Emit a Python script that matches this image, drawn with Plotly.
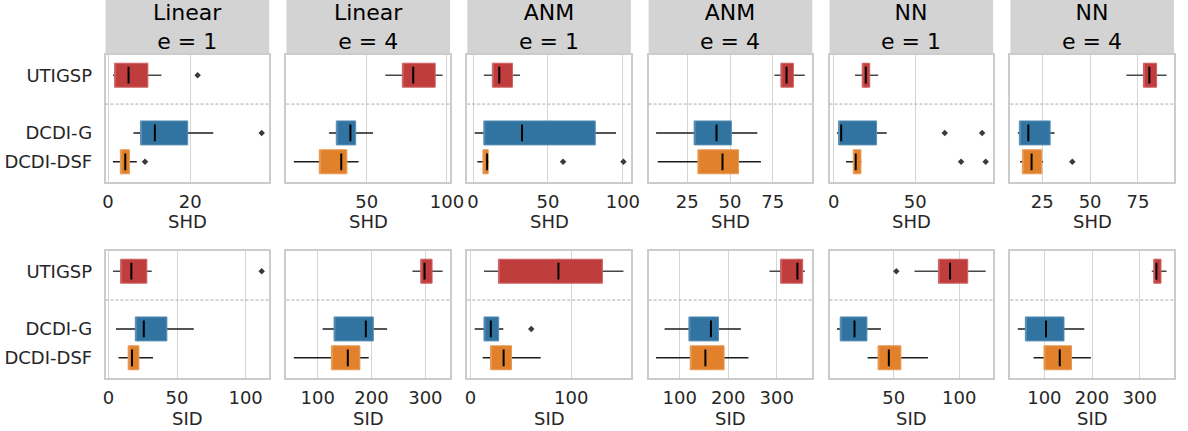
import plotly.graph_objects as go

# ---------------- data ----------------
methods = ["UTIGSP", "DCDI-G", "DCDI-DSF"]
method_pos = [0, 2, 3]
fill_colors = ["#c03d3e", "#3274a1", "#e1812c"]
edge_colors = ["#cd6263", "#5a8fb4", "#e79a57"]
whisker_colors = ["#474747", "#1c1c1c", "#1c1c1c"]
panel_titles = ["Linear<br>e = 1", "Linear<br>e = 4", "ANM<br>e = 1",
                "ANM<br>e = 4", "NN<br>e = 1", "NN<br>e = 4"]
metric_names = ["SHD", "SID"]

# SHD statistics: rows = panels, columns = [UTIGSP, DCDI-G, DCDI-DSF]
shd_lo = [[1.2, 6.2, 1.2], [61.6, 26.5, 4.5], [7.2, 1.1, 2.9],
          [76.0, 6.7, 7.7], [13.1, 2.0, 7.6], [69.0, 12.2, 13.4]]
shd_q1 = [[1.6, 7.9, 3.0], [72.2, 31.0, 20.4], [12.9, 7.2, 6.6],
          [79.8, 29.0, 31.2], [17.5, 3.0, 12.0], [77.9, 13.0, 14.6]]
shd_med = [[5.0, 11.4, 4.2], [79.0, 39.8, 34.1], [17.5, 32.7, 9.4],
           [83.1, 42.1, 45.6], [19.7, 4.6, 13.5], [81.0, 17.7, 19.4]]
shd_q3 = [[9.7, 19.4, 5.2], [92.7, 43.1, 37.6], [26.3, 81.6, 10.1],
          [87.1, 50.8, 55.0], [22.1, 26.3, 16.7], [84.8, 29.1, 24.7]]
shd_hi = [[13.0, 25.6, 7.0], [97.3, 53.9, 44.9], [31.4, 95.4, 10.5],
          [93.8, 66.0, 68.1], [27.3, 32.5, 17.0], [90.0, 31.4, 25.4]]
shd_out = [[[21.8], [37.4], [9.0]], [[], [], []], [[], [], [60.1, 100.4]],
           [[], [], []], [[], [68.1, 91.0], [78.1, 93.2]], [[], [], [40.7]]]
shd_ticks = [[0, 20], [50, 100], [0, 50, 100], [25, 50, 75], [0, 50], [25, 50, 75]]

# SID statistics
sid_lo = [[3.3, 5.5, 7.4], [276.0, 109.1, 55.6], [13.4, 4.2, 12.1],
          [285.1, 68.8, 51.2], [65.9, 6.7, 30.1], [325.4, 44.3, 77.3]]
sid_q1 = [[8.9, 19.6, 14.4], [291.5, 130.4, 125.5], [27.7, 13.4, 19.9],
          [308.1, 119.0, 121.7], [84.1, 9.2, 38.1], [329.6, 60.1, 99.3]]
sid_med = [[16.7, 25.8, 17.2], [298.5, 189.4, 155.9], [87.3, 20.2, 32.9],
           [342.7, 164.4, 152.9], [93.0, 20.1, 46.3], [335.1, 103.4, 132.3]]
sid_q3 = [[28.0, 42.6, 22.2], [312.5, 203.3, 178.4], [130.9, 28.0, 40.7],
          [353.6, 180.0, 191.5], [106.5, 29.6, 55.5], [344.7, 141.2, 157.0]]
sid_hi = [[31.6, 62.2, 32.5], [332.0, 228.9, 194.8], [151.8, 32.6, 69.7],
          [358.0, 226.1, 241.7], [120.2, 40.3, 76.1], [356.4, 183.8, 197.6]]
sid_out = [[[111.7], [], []], [[], [], []], [[], [60.3], []],
           [[], [], []], [[52.0], [], []], [[], [], []]]
sid_ticks = [[0, 50, 100], [100, 200, 300], [0, 100], [100, 200, 300], [50, 100], [100, 200, 300]]

metrics = [
    (shd_lo, shd_q1, shd_med, shd_q3, shd_hi, shd_out, shd_ticks),
    (sid_lo, sid_q1, sid_med, sid_q3, sid_hi, sid_out, sid_ticks),
]

# ---------------- layout geometry (pixels) ----------------
W, H = 1188, 431
col_left = [104, 287.5, 471, 655, 838.5, 1022]
col_w = 166
row_top = [55, 251]
row_h = 127
title_h = 55
box_w = 0.83
TXT = "#262626"
FONT = "DejaVu Sans"
FS = 18

fig = go.Figure()
layout = dict(
    width=W, height=H, margin=dict(l=0, r=0, t=0, b=0),
    paper_bgcolor="white", plot_bgcolor="white",
    showlegend=False, boxmode="overlay",
    font=dict(family=FONT, size=FS, color=TXT),
)
shapes = []
annotations = []

for r, (lo, q1, med, q3, hi, out, ticks) in enumerate(metrics):
    for c in range(6):
        k = r * 6 + c + 1
        xname = "x" if k == 1 else f"x{k}"
        yname = "y" if k == 1 else f"y{k}"
        # whiskers (drawn first, hidden under box inside the IQR)
        for m in range(3):
            fig.add_trace(go.Box(
                orientation="h", y=[method_pos[m]],
                q1=[med[c][m]], median=[med[c][m]], q3=[med[c][m]],
                lowerfence=[lo[c][m]], upperfence=[hi[c][m]],
                width=box_w, whiskerwidth=0,
                fillcolor="rgba(0,0,0,0)",
                line=dict(color=whisker_colors[m], width=1.6),
                xaxis=xname, yaxis=yname, hoverinfo="skip", name=methods[m]))
        # boxes
        for m in range(3):
            fig.add_trace(go.Box(
                orientation="h", y=[method_pos[m]],
                q1=[q1[c][m]], median=[q1[c][m]], q3=[q3[c][m]],
                lowerfence=[q1[c][m]], upperfence=[q3[c][m]],
                width=box_w, whiskerwidth=0,
                fillcolor=fill_colors[m],
                line=dict(color=edge_colors[m], width=1),
                xaxis=xname, yaxis=yname, hoverinfo="skip", name=methods[m]))
        # medians
        fig.add_trace(go.Scatter(
            x=[med[c][m] for m in range(3)], y=method_pos, mode="markers",
            marker=dict(symbol="line-ns", size=12, color="black",
                        line=dict(color="black", width=2)),
            xaxis=xname, yaxis=yname, hoverinfo="skip"))
        # outliers
        ox, oy = [], []
        for m in range(3):
            for v in out[c][m]:
                ox.append(v)
                oy.append(method_pos[m])
        fig.add_trace(go.Scatter(
            x=ox, y=oy, mode="markers",
            marker=dict(symbol="diamond", size=5, color="#3a3a3a"),
            xaxis=xname, yaxis=yname, hoverinfo="skip"))

        # axis ranges from data (5% padding like matplotlib autoscale)
        allv = [v for m in range(3) for v in (lo[c][m], hi[c][m], *out[c][m])]
        mn, mx = min(allv), max(allv)
        pad = 0.05 * (mx - mn)

        x0 = col_left[c] / W
        x1 = (col_left[c] + col_w) / W
        y1 = 1 - row_top[r] / H
        y0 = 1 - (row_top[r] + row_h) / H

        layout["xaxis" if k == 1 else f"xaxis{k}"] = dict(
            domain=[x0, x1], anchor=yname, range=[mn - pad, mx + pad],
            tickvals=ticks[c], showgrid=True, gridcolor="#d5d5d5", gridwidth=1.2,
            zeroline=False, showline=True, mirror=True,
            linecolor="#cccccc", linewidth=1.5, ticks="",
            tickfont=dict(size=FS, color=TXT), ticklabelstandoff=3,
        )
        layout["yaxis" if k == 1 else f"yaxis{k}"] = dict(
            domain=[y0, y1], anchor=xname, range=[3.7, -0.7],
            tickvals=method_pos, ticktext=methods,
            showticklabels=(c == 0), showgrid=False, zeroline=False,
            showline=True, mirror=True, linecolor="#cccccc", linewidth=1.5,
            ticks="", tickfont=dict(size=FS, color=TXT), ticklabelstandoff=8,
        )
        # dashed separator between UTIGSP and DCDI rows
        shapes.append(dict(type="line", xref=f"{xname} domain", yref=yname,
                           x0=0, x1=1, y0=1, y1=1,
                           line=dict(color="#aaaaaa", width=1, dash="3px,2px")))
        # x-axis title
        annotations.append(dict(
            text=metric_names[r], xref="paper", yref="paper",
            x=(col_left[c] + col_w / 2) / W,
            y=1 - (row_top[r] + row_h + 40) / H,
            xanchor="center", yanchor="middle", showarrow=False,
            font=dict(size=FS, color=TXT)))
        if r == 0:
            shapes.append(dict(type="rect", xref="paper", yref="paper",
                               x0=x0, x1=x1, y0=y1, y1=1,
                               fillcolor="#d3d3d3", line=dict(width=0), layer="below"))
            annotations.append(dict(
                text=panel_titles[c], xref="paper", yref="paper",
                x=(col_left[c] + col_w / 2) / W, y=1 - (title_h / 2) / H,
                xanchor="center", yanchor="middle", showarrow=False,
                font=dict(size=22, color="black")))

layout["shapes"] = shapes
layout["annotations"] = annotations
fig.update_layout(**layout)
fig.write_html("out.html")
